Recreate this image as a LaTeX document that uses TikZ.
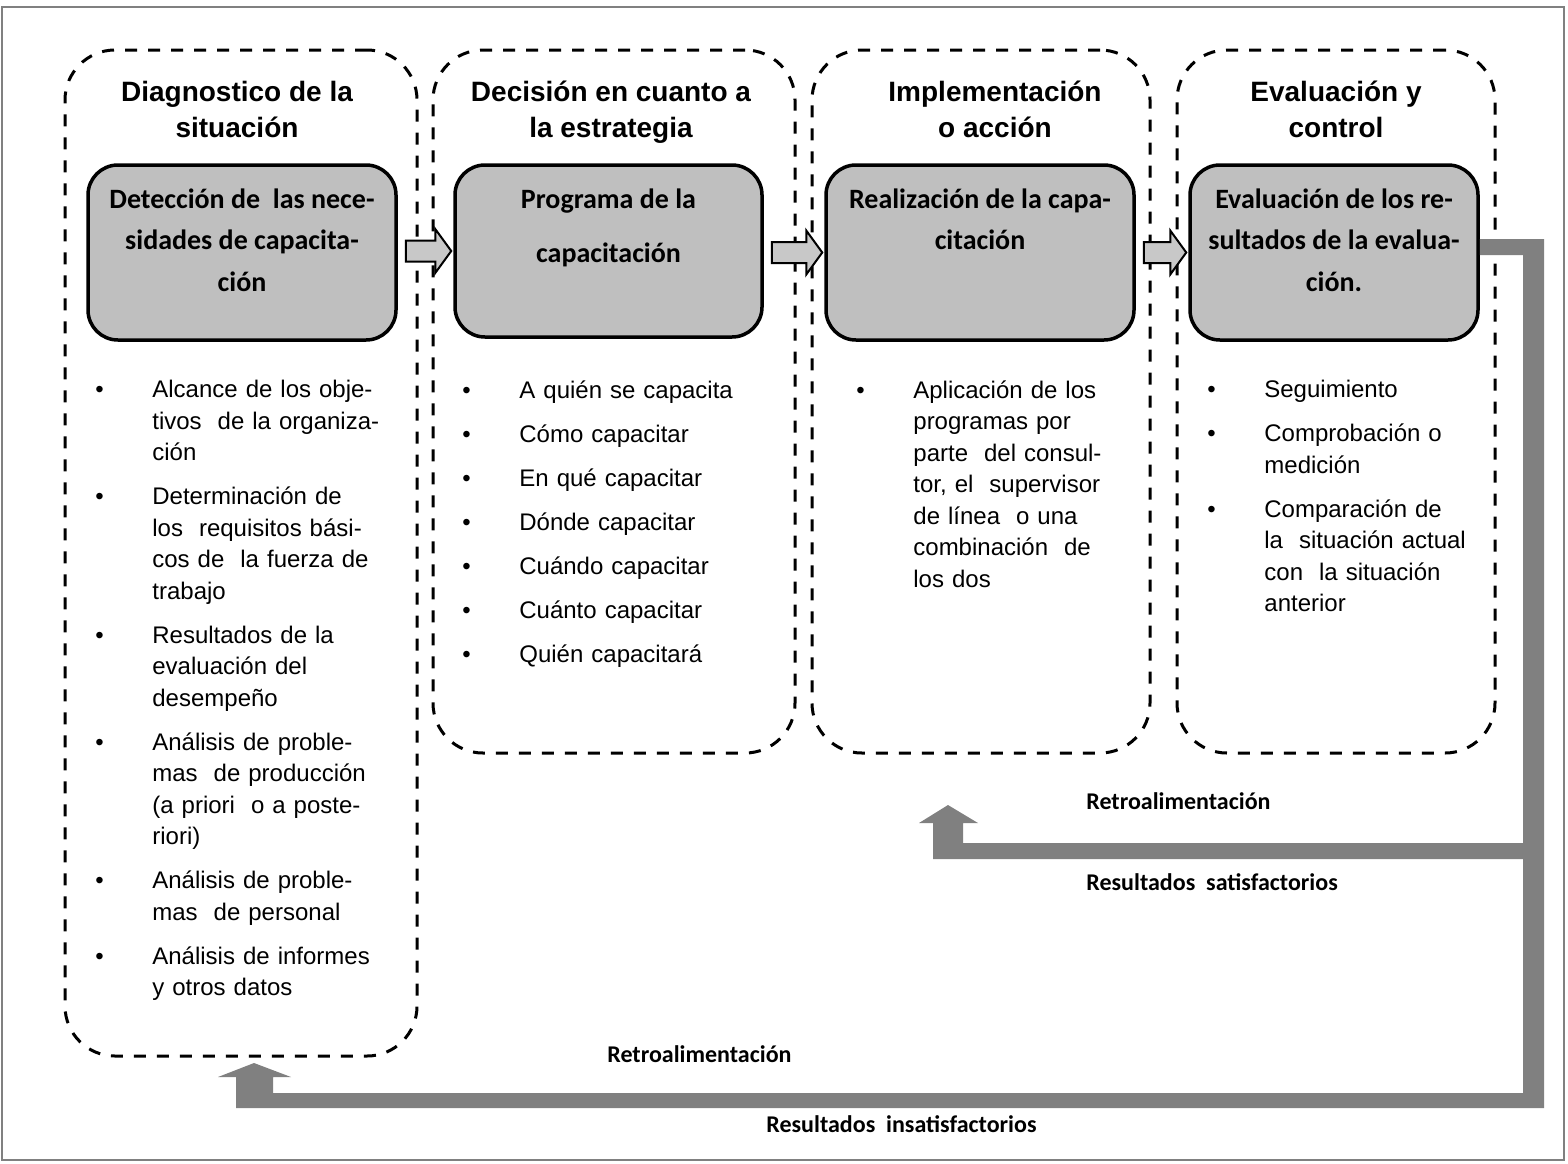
\documentclass[tikz,border=0pt]{standalone}
\usepackage{fontspec}
\setmainfont{Liberation Sans}
\newfontfamily\calibri{Carlito}
\usetikzlibrary{calc}

\definecolor{cajagris}{RGB}{191,191,191}
\definecolor{flechagris}{RGB}{200,200,200}
\definecolor{retrogris}{RGB}{128,128,128}

\tikzset{
	columna/.style={draw, line width=1.5pt, dash pattern=on 6pt off 5.5pt, rounded corners=25pt},
	caja/.style={draw, fill=cajagris, line width=1.75pt, rounded corners=15pt, minimum height=87.5pt},
	cajatxt/.style={anchor=north, inner sep=0pt, align=center, font=\calibri\bfseries\fontsize{14pt}{20.75pt}\selectfont},
	titulo/.style={anchor=north, inner sep=0pt, align=center, font=\bfseries\fontsize{14pt}{18pt}\selectfont},
	lista/.style={anchor=north west, inner sep=0pt, text width=160pt, align=left, font=\fontsize{12pt}{15.75pt}\selectfont},
	etiqueta/.style={anchor=west, inner sep=0pt, font=\calibri\bfseries\fontsize{12pt}{14pt}\selectfont},
	flechabox/.style={draw, fill=flechagris, line width=1pt, line join=miter},
	retro/.style={fill=retrogris}
}

\newcommand{\punto}[1]{\hangindent=28.5pt\hangafter=1\noindent\makebox[28.5pt][l]{\textbullet}#1\par}
\newcommand{\flecha}[2]{\draw[flechabox] let \p1=([xshift=4pt]#1.east), \p2=([xshift=-1pt]#2.west) in (\x1,\y2+5.25pt) -- (\x2-8pt,\y2+5.25pt) -- (\x2-8pt,\y2+11pt) -- (\x2,\y2) -- (\x2-8pt,\y2-11pt) -- (\x2-8pt,\y2-5.25pt) -- (\x1,\y2-5.25pt) -- cycle;}

\begin{document}
\begin{tikzpicture}[x=0.5pt, y=-0.5pt]
	\useasboundingbox (0,0) rectangle (1568,1163);
	\draw[retrogris, line width=0.6pt] (2,7) rectangle (1564,1160);
	%%
	\node[columna, minimum width=176pt, minimum height=503pt] (col1) at (241,553) {};
	\node[columna, minimum width=181pt, minimum height=351.5pt] (col2) at (614,401.5) {};
	\node[columna, minimum width=169pt, minimum height=351.5pt] (col3) at (981,401.5) {};
	\node[columna, minimum width=159pt, minimum height=351.5pt] (col4) at (1336,401.5) {};
	%%
	\node[titulo] (tit1) at ([xshift=-2pt, yshift=-16pt]col1.north) {Diagnostico de la\\situación};
	\node[titulo] (tit2) at ([xshift=-1.5pt, yshift=-16pt]col2.north) {Decisión en cuanto a\\la estrategia};
	\node[titulo] (tit3) at ([xshift=7pt, yshift=-16pt]col3.north) {Implementación\\o acción};
	\node[titulo] (tit4) at ([yshift=-16pt]col4.north) {Evaluación y\\control};
	%%
	\node[caja, minimum width=154pt] (det) at (242,252.5) {};
	\node[caja, minimum width=153.5pt, minimum height=86pt] (prog) at (608.5,251) {};
	\node[caja, minimum width=154pt] (real) at (980,252.5) {};
	\node[caja, minimum width=144pt] (eval) at (1334,252.5) {};
	%%
	\node[cajatxt] (tdet) at ([yshift=-12.5pt]det.north) {Detección de~ las nece-\\sidades de capacita-\\ción};
	\node[cajatxt] (tprog) at ([yshift=-12.5pt]prog.north) {Programa de la\\[6.25pt]capacitación};
	\node[cajatxt] (treal) at ([yshift=-12.5pt]real.north) {Realización de la capa-\\citación};
	\node[cajatxt] (teval) at ([yshift=-12.5pt]eval.north) {Evaluación de los re-\\sultados de la evalua-\\ción.};
	%%
	\flecha{det}{prog}
	\flecha{prog}{real}
	\flecha{real}{eval}
	%%
	\node[lista] (l1) at (95,380) {\setlength{\parskip}{6.25pt}%
		\punto{Alcance de los obje-\newline tivos~ de la organiza-\newline ción}
		\punto{Determinación de\newline los~ requisitos bási-\newline cos de~ la fuerza de\newline trabajo}
		\punto{Resultados de la\newline evaluación del\newline desempeño}
		\punto{Análisis de proble-\newline mas~ de producción\newline (a priori~ o a poste-\newline riori)}
		\punto{Análisis de proble-\newline mas~ de personal}
		\punto{Análisis de informes\newline y otros datos}};
	\node[lista] (l2) at (462,380) {\setlength{\parskip}{6.25pt}%
		\punto{A quién se capacita}
		\punto{Cómo capacitar}
		\punto{En qué capacitar}
		\punto{Dónde capacitar}
		\punto{Cuándo capacitar}
		\punto{Cuánto capacitar}
		\punto{Quién capacitará}};
	\node[lista] (l3) at (856,380) {\setlength{\parskip}{6.25pt}%
		\punto{Aplicación de los\newline programas por\newline parte~ del consul-\newline tor, el~ supervisor\newline de línea~ o una\newline combinación~ de\newline los dos}};
	\node[lista] (l4) at (1207,380) {\setlength{\parskip}{6.25pt}%
		\punto{Seguimiento}
		\punto{Comprobación o\newline medición}
		\punto{Comparación de\newline la~ situación actual\newline con~ la situación\newline anterior}};
	%%
	\fill[retro] ([yshift=6.75pt]eval.east) -- (1544,239) -- (1544,1108) -- (236,1108) -- (236,1077) -- (218,1077) -- (254,1063) -- (291,1077) -- (273,1077) -- (273,1093) -- (1523,1093) -- (1523,255) -- ([yshift=-1.25pt]eval.east) -- cycle;
	\fill[retro] (1523,843) -- (963,843) -- (963,823) -- (978,823) -- (948,805) -- (919,823) -- (933,823) -- (933,859) -- (1523,859) -- cycle;
	%%
	\node[etiqueta] (retro1) at (1086,801) {Retroalimentación};
	\node[etiqueta] (satis) at (1086,882) {Resultados~ satisfactorios};
	\node[etiqueta] (retro2) at (607,1054) {Retroalimentación};
	\node[etiqueta] (insatis) at (766,1124) {Resultados~ insatisfactorios};
\end{tikzpicture}
\end{document}
